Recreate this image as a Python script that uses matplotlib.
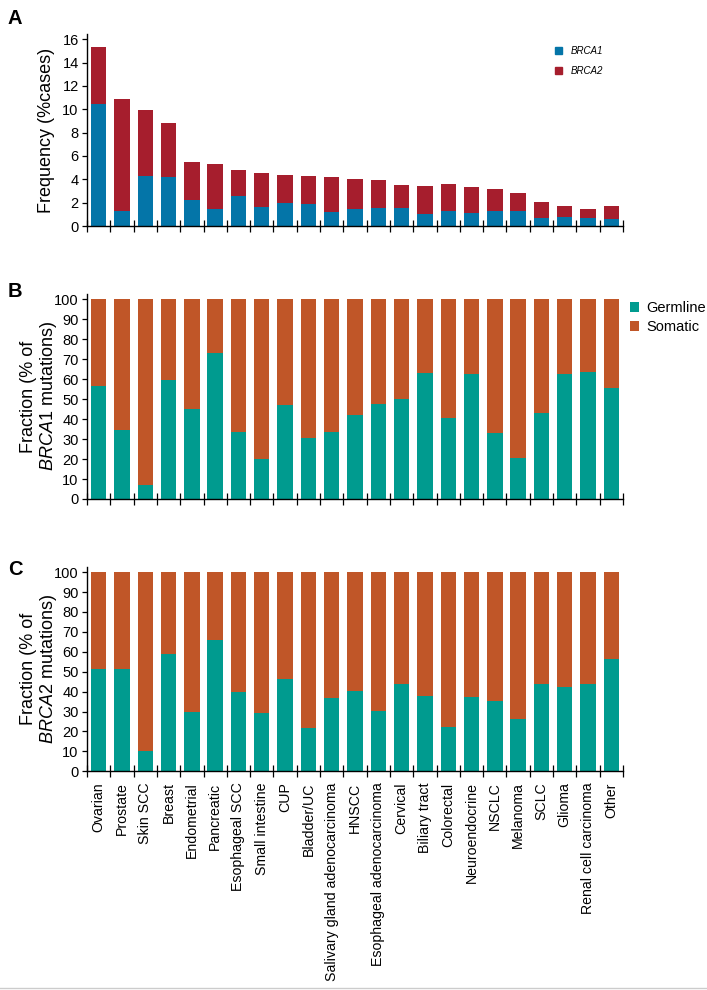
import numpy as np
import matplotlib
matplotlib.use("Agg")
import matplotlib.pyplot as plt
from matplotlib.patches import Patch
from matplotlib.lines import Line2D

plt.rcParams["font.family"] = ["Liberation Sans", "DejaVu Sans"]
plt.rcParams["mathtext.fontset"] = "custom"
plt.rcParams["mathtext.it"] = "Liberation Sans:italic"
plt.rcParams["mathtext.rm"] = "Liberation Sans"

CANCERS = [
    "Ovarian", "Prostate", "Skin SCC", "Breast", "Endometrial", "Pancreatic",
    "Esophageal SCC", "Small intestine", "CUP", "Bladder/UC",
    "Salivary gland adenocarcinoma", "HNSCC", "Esophageal adenocarcinoma",
    "Cervical", "Biliary tract", "Colorectal", "Neuroendocrine", "NSCLC",
    "Melanoma", "SCLC", "Glioma", "Renal cell carcinoma", "Other",
]

# panel A: frequency (% cases), stacked
BRCA1_FREQ = [10.47, 1.25, 4.25, 4.19, 2.2, 1.45, 2.6, 1.63, 1.94, 1.91, 1.2, 1.43,
              1.56, 1.54, 1.03, 1.28, 1.08, 1.28, 1.25, 0.66, 0.77, 0.68, 0.6]
TOTAL_FREQ = [15.35, 10.84, 9.98, 8.84, 5.48, 5.3, 4.76, 4.54, 4.34, 4.31, 4.16, 4.03,
              3.9, 3.53, 3.45, 3.56, 3.3, 3.19, 2.8, 2.08, 1.74, 1.48, 1.74]
BRCA2_FREQ = [t - b for t, b in zip(TOTAL_FREQ, BRCA1_FREQ)]

# panels B/C: germline fraction (% of mutations)
GERM_BRCA1 = [56.8, 34.4, 6.8, 59.4, 45.1, 73.3, 33.4, 19.9, 47.1, 30.7, 33.4, 42.1,
              47.7, 50.1, 63.1, 40.7, 62.4, 32.9, 20.7, 42.9, 62.4, 63.8, 55.8]
GERM_BRCA2 = [51.5, 51.5, 10.2, 59.0, 29.6, 65.9, 40.0, 29.3, 46.5, 21.9, 37.0, 40.3,
              30.1, 43.6, 38.0, 22.1, 37.5, 35.1, 26.1, 43.6, 42.3, 43.6, 56.2]

C_BRCA1 = "#0475a8"
C_BRCA2 = "#a61e2d"
C_GERM = "#009b8f"
C_SOM = "#c05628"

W, H = 707, 990
fig = plt.figure(figsize=(W / 100, H / 100), dpi=100)


def fx(px):
    return px / W


def fy(py):
    return 1 - py / H


LEFT, RIGHT = 87, 623
x = np.arange(len(CANCERS))
BAR_W = 0.66


def style_axis(ax, ylim, yticks):
    for s in ("top", "right"):
        ax.spines[s].set_visible(False)
    for s in ("left", "bottom"):
        ax.spines[s].set_linewidth(1.0)
    ax.set_xlim(-0.5, len(CANCERS) - 0.5)
    ax.set_ylim(*ylim)
    ax.set_yticks(yticks)
    ax.tick_params(axis="y", direction="out", length=3.5, width=0.9, labelsize=10.5, pad=2.5)
    ax.set_xticks(x)
    ax.tick_params(axis="x", which="major", length=0, labelbottom=False)
    ax.set_xticks(np.arange(-0.5, len(CANCERS)), minor=True)
    ax.tick_params(axis="x", which="minor", direction="inout", length=8, width=0.9)


# ---- A
axA = fig.add_axes([fx(LEFT), fy(226), fx(RIGHT - LEFT), (226 - 34) / H])
axA.bar(x, BRCA1_FREQ, BAR_W, color=C_BRCA1, label="BRCA1")
axA.bar(x, BRCA2_FREQ, BAR_W, bottom=BRCA1_FREQ, color=C_BRCA2, label="BRCA2")
style_axis(axA, (0, 16.45), range(0, 17, 2))
axA.set_ylabel("Frequency (%cases)", fontsize=13)
axA.yaxis.set_label_coords(-0.06, 0.5)
axA.legend(handles=[Patch(color=C_BRCA1, label="BRCA1"), Patch(color=C_BRCA2, label="BRCA2")],
           loc="upper left", bbox_to_anchor=(fx(555), fy(46)), bbox_transform=fig.transFigure,
           frameon=False, prop={"style": "italic", "size": 7},
           handlelength=0.75, handleheight=0.75, handletextpad=0.9,
           labelspacing=1.0, borderpad=0, borderaxespad=0)


def fraction_panel(top, bottom, germ, gene):
    ax = fig.add_axes([fx(LEFT), fy(bottom), fx(RIGHT - LEFT), (bottom - top) / H])
    som = [100 - g for g in germ]
    ax.bar(x, germ, BAR_W, color=C_GERM, label="Germline")
    ax.bar(x, som, BAR_W, bottom=germ, color=C_SOM, label="Somatic")
    style_axis(ax, (0, 102.7), range(0, 101, 10))
    ax.set_ylabel("Fraction (% of\n$\\mathit{" + gene + "}$ mutations)", fontsize=13,
                  linespacing=1.05)
    ax.yaxis.set_label_coords(-0.052, 0.5)
    return ax


axB = fraction_panel(294, 499, GERM_BRCA1, "BRCA1")
axB.legend(loc="upper left", bbox_to_anchor=(fx(630), fy(301)), bbox_transform=fig.transFigure,
           frameon=False, fontsize=10.5, handlelength=0.62, handleheight=0.62,
           handletextpad=0.5, labelspacing=0.35, borderpad=0, borderaxespad=0)

axC = fraction_panel(566.7, 771.3, GERM_BRCA2, "BRCA2")
axC.set_xticks(x)
axC.set_xticklabels(CANCERS, rotation=90, fontsize=10.2)
axC.tick_params(axis="x", which="major", labelbottom=True, pad=8)

for lab, py in (("A", 9), ("B", 282), ("C", 560)):
    fig.text(fx(8), fy(py), lab, fontsize=14.5, fontweight="bold", va="top", ha="left")

fig.add_artist(Line2D([0, 1], [fy(988), fy(988)], transform=fig.transFigure,
                      color="#cccccc", linewidth=1.0))

fig.savefig("out.png", dpi=100)
